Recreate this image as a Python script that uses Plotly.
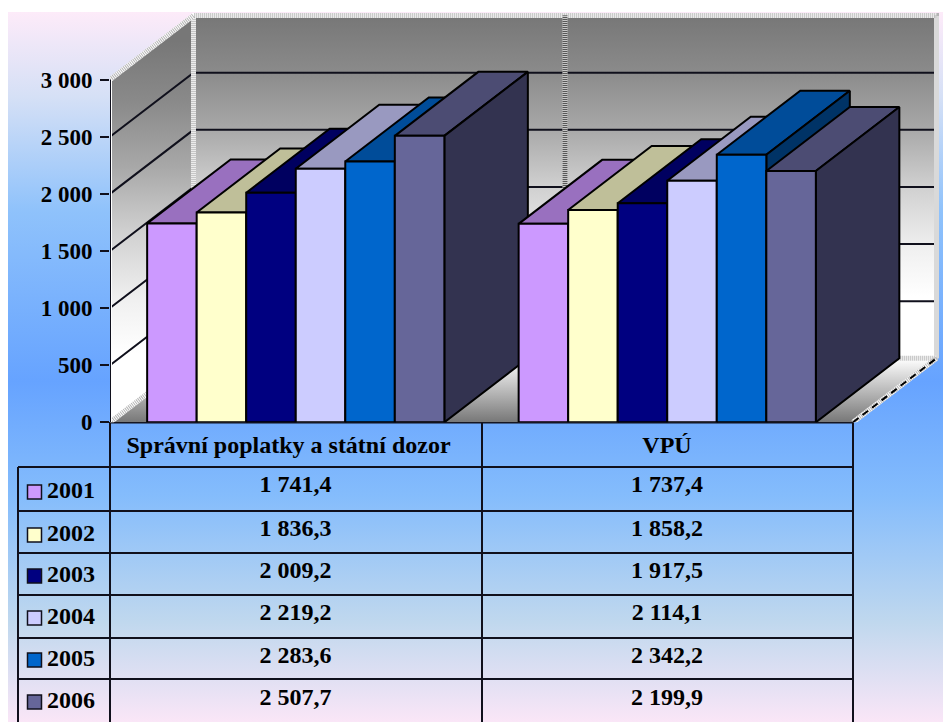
import plotly.graph_objects as go

# ---------- data ----------
categories = ["Správní poplatky a státní dozor", "VPÚ"]
years = ["2001", "2002", "2003", "2004", "2005", "2006"]
values_admin = [1741.4, 1836.3, 2009.2, 2219.2, 2283.6, 2507.7]
values_vpu = [1737.4, 1858.2, 1917.5, 2114.1, 2342.2, 2199.9]
labels_admin = ["1 741,4", "1 836,3", "2 009,2", "2 219,2", "2 283,6", "2 507,7"]
labels_vpu = ["1 737,4", "1 858,2", "1 917,5", "2 114,1", "2 342,2", "2 199,9"]
y_ticks = [0, 500, 1000, 1500, 2000, 2500, 3000]
y_tick_labels = ["0", "500", "1 000", "1 500", "2 000", "2 500", "3 000"]

front_colors = ["#CC99FF", "#FFFFCC", "#000080", "#CCCCFF", "#0066CC", "#666699"]
top_colors = ["#9970BF", "#BFBF99", "#000060", "#9999C0", "#004C99", "#4C4C73"]
side_colors = ["#664D80", "#808066", "#000040", "#666680", "#003366", "#333350"]

# ---------- geometry ----------
W, H = 943, 722
Y0_PX = 422.3          # pixel row of value 0
PX_PER_VAL = 0.11423
X0_PX = 110
PX_PER_CAT = 371.5
DEPTH_X = 83.5 / PX_PER_CAT
DEPTH_Y = 64 / PX_PER_VAL
BAR_W = 0.8 / len(years)
FONT = "Liberation Serif"
INK = "#10101c"

fig = go.Figure()

# page-space layer (axes x/y): background and the data table
bg_scale = [[0, "#FDEBF9"], [0.12, "#D5E0F6"], [0.28, "#8FC2FB"], [0.52, "#66A3FF"],
            [0.68, "#84BCFC"], [0.86, "#C0D8EE"], [1, "#FAE6F7"]]
fig.add_trace(go.Scatter(x=[8, W, W, 8, 8], y=[12, 12, H, H, 12], mode="none", fill="toself",
                         fillgradient=dict(type="vertical", colorscale=bg_scale, start=12, stop=H),
                         hoverinfo="skip", xaxis="x", yaxis="y"))

def page_line(xs, ys, color=INK, width=2):
    fig.add_trace(go.Scatter(x=xs, y=ys, mode="lines", line=dict(color=color, width=width),
                             hoverinfo="skip", xaxis="x", yaxis="y"))

row_lines = [467, 511, 553, 595, 638, 679]
page_line([110, 853], [422.5, 422.5])
for r in row_lines:
    page_line([18, 853], [r, r])
page_line([110, 110], [422, H])
page_line([482, 482], [422, H])
page_line([853, 853], [422, H])
page_line([18, 18], [467, H])

value_rows = [486, 530, 572, 614, 657, 699]
label_rows = [492, 535, 576, 618, 660, 702]
col_centres = [295.5, 667]
header_centres = [288.5, 667]
tf = dict(family=FONT, size=24, color="#000000")
fig.add_trace(go.Scatter(x=header_centres, y=[447, 447], mode="text", text=[f"<b>{c}</b>" for c in categories],
                         textfont=tf, hoverinfo="skip", xaxis="x", yaxis="y"))
for lab, cx in zip([labels_admin, labels_vpu], col_centres):
    fig.add_trace(go.Scatter(x=[cx] * len(lab), y=value_rows, mode="text", text=[f"<b>{t}</b>" for t in lab],
                             textfont=tf, hoverinfo="skip", xaxis="x", yaxis="y"))
fig.add_trace(go.Scatter(x=[34.5] * 6, y=label_rows, mode="markers",
                         marker=dict(symbol="square", size=14, color=front_colors,
                                     line=dict(color=INK, width=1.5)),
                         hoverinfo="skip", xaxis="x", yaxis="y"))
fig.add_trace(go.Scatter(x=[47] * 6, y=label_rows, mode="text", text=[f"<b>{t}</b>" for t in years],
                         textposition="middle right", textfont=tf, hoverinfo="skip", xaxis="x", yaxis="y"))

# chart layer (axes x2/y2): walls, floor, grid, bars
def poly(xs, ys, line_color=None, line_width=1, fillcolor=None, gradient=None):
    kw = dict(x=list(xs) + [xs[0]], y=list(ys) + [ys[0]], fill="toself", hoverinfo="skip",
              xaxis="x2", yaxis="y2", cliponaxis=False)
    if line_color:
        kw.update(mode="lines", line=dict(color=line_color, width=line_width))
    else:
        kw.update(mode="none")
    if gradient:
        kw["fillgradient"] = gradient
    else:
        kw["fillcolor"] = fillcolor
    fig.add_trace(go.Scatter(**kw))

def line2(xs, ys, color=INK, width=2, dash=None):
    fig.add_trace(go.Scatter(x=xs, y=ys, mode="lines", line=dict(color=color, width=width, dash=dash),
                             hoverinfo="skip", xaxis="x2", yaxis="y2", cliponaxis=False))

top_val = y_ticks[-1]
wall_scale = [[0, "#777777"], [0.16, "#8A8A8A"], [0.33, "#A8A8A8"], [0.5, "#D0D0D0"],
              [0.68, "#F0F0F0"], [0.82, "#FFFFFF"], [1, "#FFFFFF"]]
wall_grad = dict(type="vertical", colorscale=wall_scale, start=top_val + DEPTH_Y, stop=DEPTH_Y)
left_grad = dict(type="vertical", colorscale=wall_scale, start=top_val + DEPTH_Y * 0.6, stop=0)
floor_grad = dict(type="vertical", colorscale=[[0, "#FFFFFF"], [1, "#777777"]], start=DEPTH_Y, stop=0)
poly([DEPTH_X, 2 + DEPTH_X, 2 + DEPTH_X, DEPTH_X], [DEPTH_Y, DEPTH_Y, top_val + DEPTH_Y, top_val + DEPTH_Y], gradient=wall_grad)
poly([0, DEPTH_X, DEPTH_X, 0], [0, DEPTH_Y, top_val + DEPTH_Y, top_val], gradient=left_grad)
poly([0, 2, 2 + DEPTH_X, DEPTH_X], [0, 0, DEPTH_Y, DEPTH_Y], gradient=floor_grad)

# grid on walls
for v in y_ticks[1:-1]:
    line2([0, DEPTH_X, 2 + DEPTH_X], [v, v + DEPTH_Y, v + DEPTH_Y])

# dithered wall edges
edge_paths = [
    ([DEPTH_X, DEPTH_X], [DEPTH_Y, top_val + DEPTH_Y]),
    ([0, DEPTH_X, 2 + DEPTH_X, 2 + DEPTH_X], [top_val, top_val + DEPTH_Y, top_val + DEPTH_Y, DEPTH_Y]),
    ([0, DEPTH_X, 2 + DEPTH_X, 2], [0, DEPTH_Y, DEPTH_Y, 0]),
]
for ex, ey in edge_paths:
    line2(ex, ey, color="#FFFFFF", width=5)
    line2(ex, ey, color="#B4B4B4", width=5, dash="1px,1px")
line2([2, 2 + DEPTH_X], [0, DEPTH_Y], color="#000000", width=2, dash="7px,5px")
line2([1 + DEPTH_X, 1 + DEPTH_X], [DEPTH_Y, top_val + DEPTH_Y], color="#FFFFFF", width=5)
line2([1 + DEPTH_X, 1 + DEPTH_X], [DEPTH_Y, top_val + DEPTH_Y], color="#202020", width=5, dash="1px,1px")
line2([0, 0], [0, top_val], color="#FFFFFF", width=4)
line2([0, 0], [0, top_val], color=INK, width=2)

# bars
for g, vals in enumerate([values_admin, values_vpu]):
    for i, v in enumerate(vals):
        x0 = g + 0.1 + i * BAR_W
        x1 = x0 + BAR_W
        poly([x0, x1, x1 + DEPTH_X, x0 + DEPTH_X], [v, v, v + DEPTH_Y, v + DEPTH_Y],
             line_color="#000000", line_width=2, fillcolor=top_colors[i])
        poly([x1, x1 + DEPTH_X, x1 + DEPTH_X, x1], [0, DEPTH_Y, v + DEPTH_Y, v],
             line_color="#000000", line_width=2, fillcolor=side_colors[i])
        poly([x0, x1, x1, x0], [0, 0, v, v], line_color="#000000", line_width=2, fillcolor=front_colors[i])

fig.update_layout(
    template="none",
    width=W, height=H, margin=dict(l=0, r=0, t=0, b=0, pad=0, autoexpand=False), showlegend=False,
    paper_bgcolor="#FFFFFF", plot_bgcolor="rgba(0,0,0,0)",
    xaxis=dict(domain=[0, 1], range=[0, W], visible=False, fixedrange=True, automargin=False),
    yaxis=dict(domain=[0, 1], range=[H, 0], visible=False, fixedrange=True, automargin=False),
    xaxis2=dict(domain=[X0_PX / W, 1], range=[0, (W - X0_PX) / PX_PER_CAT], visible=False,
                anchor="y2", fixedrange=True, automargin=False),
    yaxis2=dict(domain=[(H - Y0_PX) / H, 1], range=[0, Y0_PX / PX_PER_VAL], anchor="x2", fixedrange=True,
                automargin=False, showgrid=False, zeroline=False, showline=False, tickmode="array",
                tickvals=y_ticks, ticktext=[f"<b>{t}</b>" for t in y_tick_labels],
                ticks="outside", ticklen=9, tickwidth=2, tickcolor=INK, ticklabelstandoff=3,
                tickfont=dict(family=FONT, size=23, color="#000000")),
)

fig.write_html("out.html", post_script="document.body.style.margin='0';",
               config={"displayModeBar": False})
